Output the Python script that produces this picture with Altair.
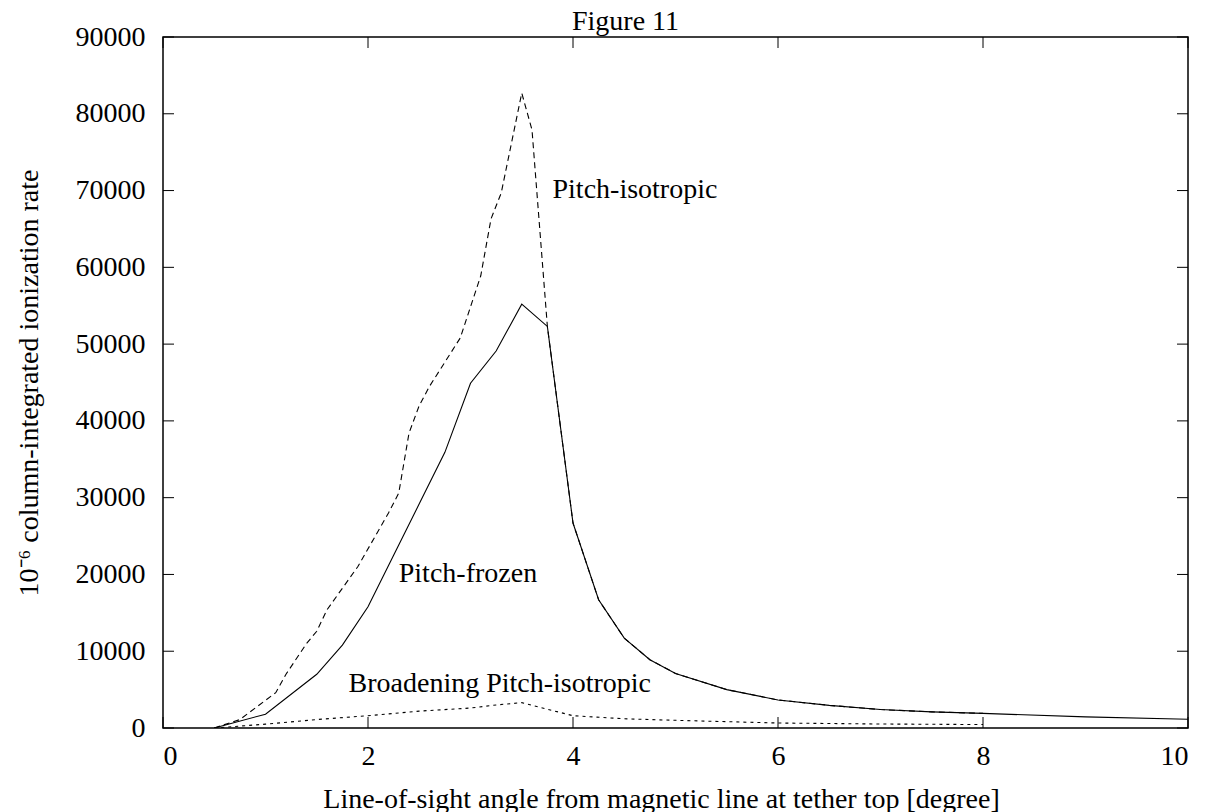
import altair as alt
import pandas as pd

# Pitch-frozen (solid)
frozen_x = [0.5, 1.0, 1.5, 1.75, 2.0, 2.25, 2.5, 2.75, 3.0, 3.25, 3.5, 3.75, 4.0, 4.25, 4.5, 4.75, 5.0, 5.5, 6.0, 6.5, 7.0, 7.5, 8.0, 9.0, 10.0]
frozen_y = [0, 1800, 7000, 10800, 15800, 22500, 29200, 35900, 44900, 49100, 55200, 52300, 26700, 16700, 11700, 8900, 7100, 5000, 3650, 2950, 2400, 2100, 1900, 1450, 1130]

# Pitch-isotropic (dashed)
iso_x = [0.5, 0.75, 1.1, 1.2, 1.4, 1.5, 1.6, 1.9, 2.2, 2.3, 2.4, 2.5, 2.6, 2.9, 3.1, 3.2, 3.3, 3.5, 3.6, 3.75, 4.0, 4.25, 4.5, 4.75, 5.0, 5.5, 6.0, 6.5, 7.0, 7.5, 8.0]
iso_y = [0, 1100, 4600, 7000, 11000, 12600, 15400, 21000, 28000, 30600, 38400, 42000, 44500, 50800, 58900, 66300, 69700, 82700, 77900, 52300, 26700, 16700, 11700, 8900, 7100, 5000, 3650, 2950, 2400, 2100, 1900]

# Broadening Pitch-isotropic (short dashes)
broad_x = [0.5, 1.0, 1.5, 2.0, 2.5, 3.0, 3.25, 3.5, 4.0, 4.5, 5.0, 6.0, 7.0, 8.0]
broad_y = [0, 500, 1100, 1600, 2200, 2600, 3000, 3300, 1600, 1200, 1000, 650, 520, 450]

x_ticks = [0, 2, 4, 6, 8, 10]
y_ticks = [0, 10000, 20000, 30000, 40000, 50000, 60000, 70000, 80000, 90000]

label_text = ["Pitch-isotropic", "Pitch-frozen", "Broadening Pitch-isotropic"]
label_x = [3.8, 2.3, 1.81]
label_y = [69000, 19000, 4700]

W, H = 1025, 691
FONT = "Liberation Serif"
FS = 28
XT = "Line-of-sight angle from magnetic line at tether top [degree]"
YT = "10\u207b\u2076 column-integrated ionization rate"

xs = alt.Scale(domain=[0, 10], nice=False, zero=False)
ys = alt.Scale(domain=[0, 90000], nice=False)

xaxis = alt.Axis(values=x_ticks, ticks=False, domain=False, grid=False,
                 labelFont=FONT, labelFontSize=FS, labelColor="black", labelPadding=14,
                 titleFont=FONT, titleFontSize=FS, titleFontWeight="normal",
                 titleColor="black", titlePadding=15, titleX=498)
yaxis = alt.Axis(values=y_ticks, ticks=False, domain=False, grid=False, format="d",
                 labelFont=FONT, labelFontSize=FS, labelColor="black", labelPadding=18,
                 titleFont=FONT, titleFontSize=FS, titleFontWeight="normal",
                 titleColor="black", titlePadding=32)


def xe(field):
    return alt.X(field, scale=xs, title=XT, axis=xaxis)


def ye(field):
    return alt.Y(field, scale=ys, title=YT, axis=yaxis)


def curve(xv, yv, dash, name):
    df = pd.DataFrame({"x": xv, "y": yv, "series": name})
    kw = dict(color="black", strokeWidth=1.1, clip=True)
    if dash:
        kw["strokeDash"] = dash
    return alt.Chart(df).mark_line(**kw).encode(x=xe("x:Q"), y=ye("y:Q"))


frozen = curve(frozen_x, frozen_y, None, "Pitch-frozen")
iso = curve(iso_x, iso_y, [6, 4], "Pitch-isotropic")
broad = curve(broad_x, broad_y, [3, 4], "Broadening Pitch-isotropic")

xt_df = pd.DataFrame({"x": x_ticks})
yt_df = pd.DataFrame({"y": y_ticks})
TL = 11
tick_bottom = alt.Chart(xt_df).mark_rule(color="black", strokeWidth=1).encode(
    x=xe("x:Q"), y=alt.value(H), y2=alt.value(H - TL))
tick_top = alt.Chart(xt_df).mark_rule(color="black", strokeWidth=1).encode(
    x=xe("x:Q"), y=alt.value(0), y2=alt.value(TL))
tick_left = alt.Chart(yt_df).mark_rule(color="black", strokeWidth=1).encode(
    y=ye("y:Q"), x=alt.value(0), x2=alt.value(TL))
tick_right = alt.Chart(yt_df).mark_rule(color="black", strokeWidth=1).encode(
    y=ye("y:Q"), x=alt.value(W), x2=alt.value(W - TL))

lab_df = pd.DataFrame({"t": label_text, "x": label_x, "y": label_y})
labels = alt.Chart(lab_df).mark_text(
    font=FONT, fontSize=FS, color="black", align="left", baseline="alphabetic"
).encode(x=xe("x:Q"), y=ye("y:Q"), text="t:N")

chart = alt.layer(frozen, iso, broad, tick_bottom, tick_top, tick_left, tick_right, labels).properties(
    width=W, height=H,
    background="white",
    title=alt.TitleParams("Figure 11", font=FONT, fontSize=FS, fontWeight="normal", color="black",
                          anchor="middle", frame="group", dx=-50, baseline="alphabetic", offset=-35),
    padding={"left": 7, "top": 0, "right": 5, "bottom": 0},
).configure_view(stroke="black", strokeWidth=1.5)

chart.save("out.html", embed_options={"renderer": "svg", "actions": False})
